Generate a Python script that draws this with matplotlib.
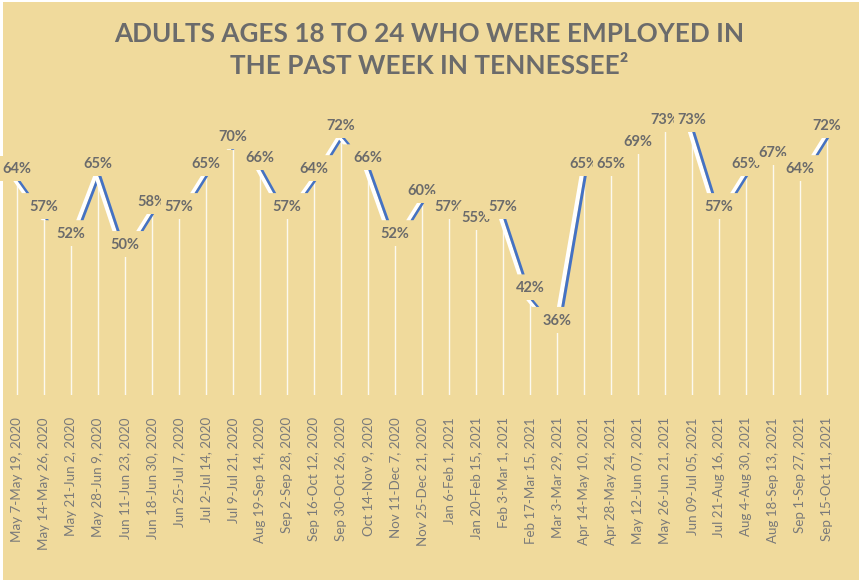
import matplotlib
matplotlib.use("Agg")
import matplotlib.pyplot as plt
from matplotlib.patches import Polygon, Rectangle
from matplotlib.transforms import ScaledTranslation

BG = "#F0DA9C"
GREY = "#6B6B6B"
BLUE = "#4472C4"

periods = [
    "May 7-May 19, 2020", "May 14-May 26, 2020", "May 21-Jun 2, 2020",
    "May 28-Jun 9, 2020", "Jun 11-Jun 23, 2020", "Jun 18-Jun 30, 2020",
    "Jun 25-Jul 7, 2020", "Jul 2-Jul 14, 2020", "Jul 9-Jul 21, 2020",
    "Aug 19-Sep 14, 2020", "Sep 2-Sep 28, 2020", "Sep 16-Oct 12, 2020",
    "Sep 30-Oct 26, 2020", "Oct 14-Nov 9, 2020", "Nov 11-Dec 7, 2020",
    "Nov 25-Dec 21, 2020", "Jan 6-Feb 1, 2021", "Jan 20-Feb 15, 2021",
    "Feb 3-Mar 1, 2021", "Feb 17-Mar 15, 2021", "Mar 3-Mar 29, 2021",
    "Apr 14-May 10, 2021", "Apr 28-May 24, 2021", "May 12-Jun 07, 2021",
    "May 26-Jun 21, 2021", "Jun 09-Jul 05, 2021", "Jul 21-Aug 16, 2021",
    "Aug 4-Aug 30, 2021", "Aug 18-Sep 13, 2021", "Sep 1-Sep 27, 2021",
    "Sep 15-Oct 11, 2021",
]
employed = [
    64, 57, 52, 65, 50, 58, 57, 65, 70, 66, 57, 64, 72, 66, 52, 60,
    57, 55, 57, 42, 36, 65, 65, 69, 73, 73, 57, 65, 67, 64, 72,
]

plt.rcParams["font.family"] = ["Lato", "DejaVu Sans"]

fig = plt.figure(figsize=(8.59, 5.81), dpi=100, facecolor="white")
fig.patches.append(Rectangle((3 / 859, 1 / 581), 856 / 859, 578 / 581,
                             transform=fig.transFigure, facecolor=BG,
                             edgecolor="none", zorder=-5))

ax = fig.add_axes([3.5 / 859, (581 - 395) / 581, 837 / 859, 295 / 581])
ax.set_zorder(2)
ax.set_facecolor("none")
ymin, ymax = 24.35, 24.35 + 295 / 5.42
ax.set_xlim(-0.5, len(periods) - 0.5)
ax.set_ylim(ymin, ymax)

x = list(range(len(periods)))

# white drop lines from each point to the floor
ax.vlines(x, ymin, employed, color="white", lw=1.0, alpha=0.85, zorder=1)

# 3-D style ribbon: white face on the left, blue edge on the right.
# The part just above the lower end is hidden behind that point's label.
wa, wb = 0.16, 0.11
hidden = 4.6  # in value units, about the label height
for i in range(len(x) - 1):
    x1, x2 = x[i], x[i + 1]
    y1, y2 = employed[i], employed[i + 1]
    lo, hi = min(y1, y2), max(y1, y2)
    if hi - lo <= hidden:
        continue
    tc = (lo + hidden - y1) / (y2 - y1)
    t0, t1 = (0.0, tc) if y1 > y2 else (tc, 1.0)
    xa, ya = x1 + t0 * (x2 - x1), y1 + t0 * (y2 - y1)
    xb, yb = x1 + t1 * (x2 - x1), y1 + t1 * (y2 - y1)
    ax.add_patch(Polygon([(xa - wa, ya), (xb - wa, yb), (xb, yb), (xa, ya)],
                         closed=True, facecolor="white", edgecolor="none",
                         zorder=2))
    ax.add_patch(Polygon([(xa, ya), (xb, yb), (xb + wb, yb), (xa + wb, ya)],
                         closed=True, facecolor=BLUE, edgecolor="none",
                         zorder=2))

# data labels with an opaque box; later labels sit on top of earlier ones
for i, v in enumerate(employed):
    at_point = fig.dpi_scale_trans + ScaledTranslation(x[i], v, ax.transData)
    ax.add_patch(Rectangle((-0.185, -0.01), 0.37, 0.25, transform=at_point,
                           facecolor=BG, edgecolor="none", zorder=5 + 2 * i,
                           clip_on=False))
    ax.annotate(f"{v}%", (x[i], v), xytext=(0, 5), textcoords="offset points",
                ha="center", va="baseline", fontsize=10.5, fontweight="bold",
                color=GREY, zorder=6 + 2 * i)

ax.set_xticks(x)
ax.set_xticklabels(periods, rotation=90, va="top", ha="center",
                   fontsize=9.6, color="#7A7A7A")
ax.tick_params(axis="x", length=0, pad=16)
ax.set_yticks([])
for s in ax.spines.values():
    s.set_visible(False)

fig.text(0.5, 1 - 34 / 581, "ADULTS AGES 18 TO 24 WHO WERE EMPLOYED IN",
         ha="center", va="center", fontsize=18.8, fontweight="bold", color=GREY)
fig.text(0.5, 1 - 66 / 581, "THE PAST WEEK IN TENNESSEE²",
         ha="center", va="center", fontsize=18.8, fontweight="bold", color=GREY)

fig.savefig("out.png", dpi=100, facecolor=fig.get_facecolor())
